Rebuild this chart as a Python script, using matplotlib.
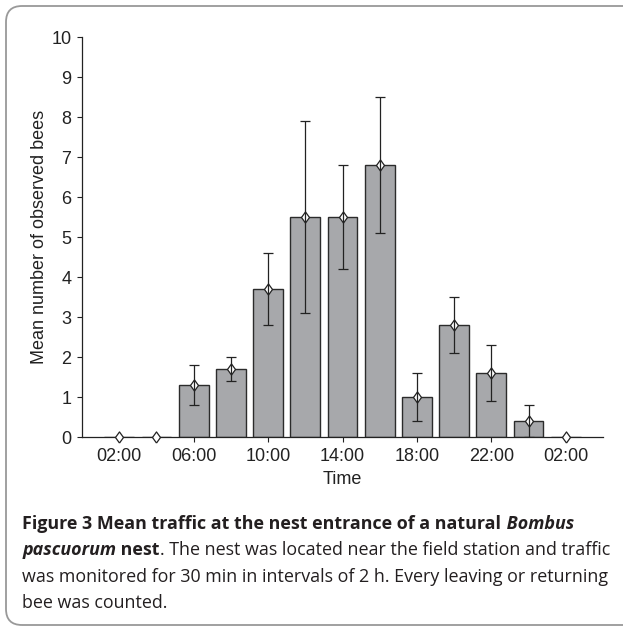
import matplotlib
matplotlib.use("Agg")
import matplotlib.pyplot as plt
from matplotlib.patches import FancyBboxPatch

# bee traffic every 2 h (mean and error bar half-length)
times = ["02:00", "04:00", "06:00", "08:00", "10:00", "12:00", "14:00",
         "16:00", "18:00", "20:00", "22:00", "00:00", "02:00"]
mean_bees = [0, 0, 1.3, 1.7, 3.7, 5.5, 5.5, 6.8, 1.0, 2.8, 1.6, 0.4, 0]
err_bees = [0, 0, 0.5, 0.3, 0.9, 2.4, 1.3, 1.7, 0.6, 0.7, 0.7, 0.4, 0]
yticks = list(range(0, 11))

caption_lines = [
    [("Figure 3 Mean traffic at the nest entrance of a natural", "bold", "normal"),
     (" Bombus", "bold", "italic")],
    [("pascuorum", "bold", "italic"),
     (" nest", "bold", "normal"),
     (". The nest was located near the field station and traffic", "normal", "normal")],
    [("was monitored for 30 min in intervals of 2 h. Every leaving or returning", "normal", "normal")],
    [("bee was counted.", "normal", "normal")],
]

W, H = 623, 628
plt.rcParams["font.family"] = ["Liberation Sans", "DejaVu Sans"]
fig = plt.figure(figsize=(W / 100, H / 100), dpi=100)

# rounded frame around figure + caption
frame = FancyBboxPatch((0.06, 0.03), 6.40 - 0.06, 6.22 - 0.03,
                       boxstyle="round,pad=0,rounding_size=0.16",
                       transform=fig.dpi_scale_trans, facecolor="none",
                       edgecolor="#999999", linewidth=1.3)
fig.add_artist(frame)

ax = fig.add_axes([82 / W, 1 - 437 / H, (603 - 82) / W, 400 / H])
x = list(range(len(times)))

ax.bar(x, mean_bees, width=0.8, color="#a7a8ab", edgecolor="#2b2b2b",
       linewidth=1.0, zorder=2)

# slightly wide open diamond
diamond = [(0, -1), (0.72, 0), (0, 1), (-0.72, 0), (0, -1)]
idx = [i for i, e in enumerate(err_bees) if e > 0]
ax.plot(x, mean_bees, linestyle="none", marker=diamond, markersize=8,
        markerfacecolor="white", markeredgecolor="#222222",
        markeredgewidth=0.9, zorder=3, clip_on=False)
ax.errorbar([x[i] for i in idx], [mean_bees[i] for i in idx],
            yerr=[err_bees[i] for i in idx], fmt="none", ecolor="#222222",
            elinewidth=0.9, capsize=3.3, capthick=0.9, zorder=4)

ax.set_xlim(-1, 13)
ax.set_ylim(0, 10)
ax.set_yticks(yticks)
ax.set_xticks(x[::2])
ax.set_xticklabels(times[::2])
for s in ["top", "right"]:
    ax.spines[s].set_visible(False)
for s in ["left", "bottom"]:
    ax.spines[s].set_color("#222222")
    ax.spines[s].set_linewidth(0.9)
ax.tick_params(direction="out", length=3.6, width=0.8, color="#222222",
               labelsize=13, labelcolor="#222222", pad=4)
ax.set_xlabel("Time", fontsize=13, color="#222222", labelpad=4.5)
ax.set_ylabel("Mean number of observed bees", fontsize=13, color="#222222",
              labelpad=2.5)

# caption, mixed bold / italic pieces chained along each baseline
cap_font = ["Open Sans", "DejaVu Sans"]
cap_size = 12.85
baselines = [529, 555, 582, 608]
for segs, yb in zip(caption_lines, baselines):
    yf = 1 - yb / H
    text, weight, style = segs[0]
    prev = fig.text(22.5 / W, yf, text, family=cap_font, size=cap_size,
                    fontweight=weight, fontstyle=style, color="#231f20",
                    ha="left", va="baseline")
    for text, weight, style in segs[1:]:
        prev = ax.annotate(text, xy=(1, yf), xycoords=(prev, "figure fraction"),
                           family=cap_font, size=cap_size, fontweight=weight,
                           fontstyle=style, color="#231f20", ha="left",
                           va="baseline", annotation_clip=False)

fig.savefig("out.png", dpi=100)
